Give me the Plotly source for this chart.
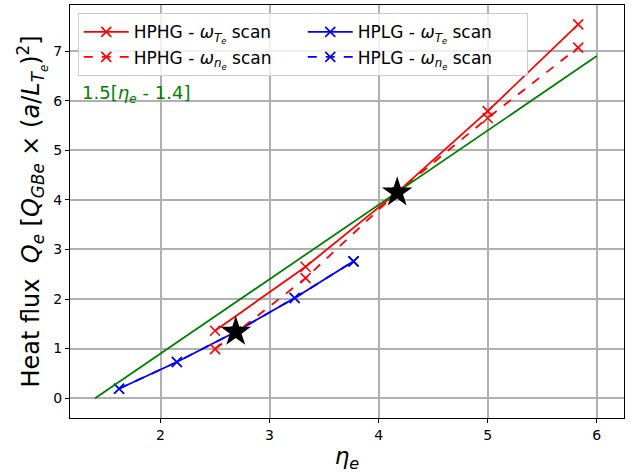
import plotly.graph_objects as go

# Data
hphg_te_x = [2.5, 3.33, 4.17, 5.0, 5.83]
hphg_te_y = [1.36, 2.65, 4.15, 5.79, 7.54]
hphg_ne_x = [2.5, 3.33, 4.17, 5.0, 5.83]
hphg_ne_y = [0.99, 2.42, 4.15, 5.65, 7.07]
hplg_te_x = [1.62, 2.15, 2.69, 3.23, 3.77]
hplg_te_y = [0.19, 0.73, 1.34, 2.02, 2.76]
hplg_ne_x = [1.62, 2.15, 2.69, 3.23, 3.77]
hplg_ne_y = [0.19, 0.73, 1.34, 2.02, 2.76]
fit_x = [1.4, 6.0]
fit_y = [1.5 * (v - 1.4) for v in fit_x]
star_x = [2.69, 4.17]
star_y = [1.34, 4.15]

fig = go.Figure()

def trace(x, y, color, dash, name):
    fig.add_trace(go.Scatter(
        x=x, y=y, mode="lines+markers", name=name,
        line=dict(color=color, width=1.8, dash=dash),
        marker=dict(symbol="x-thin", size=10, line=dict(color=color, width=1.6), color=color),
    ))

trace(hphg_te_x, hphg_te_y, "red", "solid", "HPHG - <i>ω</i><sub><i>T<sub>e</sub></i></sub> scan")
trace(hplg_te_x, hplg_te_y, "blue", "solid", "HPLG - <i>ω</i><sub><i>T<sub>e</sub></i></sub> scan")
trace(hphg_ne_x, hphg_ne_y, "red", "dash", "HPHG - <i>ω</i><sub><i>n<sub>e</sub></i></sub> scan")
trace(hplg_ne_x, hplg_ne_y, "blue", "dash", "HPLG - <i>ω</i><sub><i>n<sub>e</sub></i></sub> scan")

fig.add_trace(go.Scatter(x=fit_x, y=fit_y, mode="lines", line=dict(color="green", width=1.8),
                         showlegend=False))
fig.add_trace(go.Scatter(x=star_x, y=star_y, mode="markers", showlegend=False,
                         marker=dict(symbol="star", size=23, color="black", line=dict(width=0))))

fig.add_annotation(x=1.26, y=6.13, xref="x", yref="y", xanchor="left", yanchor="middle",
                   text="1.5[<i>η</i><sub><i>e</i></sub> - 1.4]", showarrow=False,
                   font=dict(color="green", size=18))

axis_common = dict(showline=True, linecolor="black", linewidth=1, mirror=True,
                   ticks="outside", ticklen=4, tickcolor="black",
                   showgrid=True, gridcolor="#b0b0b0", gridwidth=1.5, zeroline=False,
                   tickfont=dict(size=14, color="black"))

fig.update_xaxes(range=[1.17, 6.25], tickvals=[2, 3, 4, 5, 6], **axis_common,
                 title=dict(text="<i>η</i><sub><i>e</i></sub>", font=dict(size=23, color="black"), standoff=6))
fig.update_yaxes(range=[-0.4, 7.93], tickvals=[0, 1, 2, 3, 4, 5, 6, 7], **axis_common,
                 title=dict(text="Heat flux  <i>Q</i><sub><i>e</i></sub> [<i>Q</i><sub><i>GBe</i></sub> × (<i>a</i>/<i>L</i><sub><i>T<sub>e</sub></i></sub>)<sup>2</sup>]",
                            font=dict(size=24, color="black"), standoff=6))

fig.update_layout(
    width=631, height=473,
    margin=dict(l=70, r=7, t=5, b=55),
    plot_bgcolor="white", paper_bgcolor="white",
    font=dict(family="DejaVu Sans", color="black"),
    legend=dict(orientation="h", x=0.014, y=0.98, xanchor="left", yanchor="top",
                entrywidth=164, itemwidth=45, font=dict(size=17), tracegroupgap=0,
                bgcolor="rgba(255,255,255,0.8)", bordercolor="#cccccc", borderwidth=1),
)

fig.write_html("out.html")
